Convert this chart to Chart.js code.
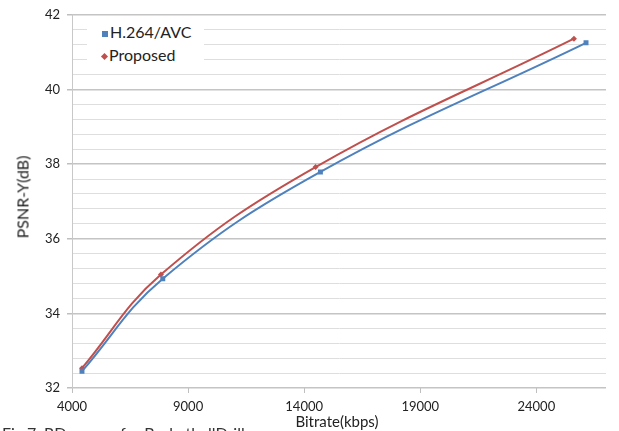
<!DOCTYPE html>
<html>
<head>
<meta charset="utf-8">
<script src="https://cdn.jsdelivr.net/npm/chart.js@4"></script>
<style>
  html, body { margin: 0; padding: 0; background: #fff; }
  #wrap { position: relative; width: 619px; height: 431px; overflow: hidden; font-family: Lato, "Open Sans", sans-serif; }
  #myChart { position: absolute; left: 0; top: 0; }
  .legend { position: absolute; left: 87px; top: 21px; width: 117px; height: 47px; background: #fff; font-size: 16px; color: #222; }
  .legend div { position: absolute; left: 15px; white-space: nowrap; }
  .legend span { display: inline-block; margin-right: 2px; vertical-align: middle; }
  .ytitle { position: absolute; left: 22px; top: 197px; transform: translate(-50%, -50%) rotate(-90deg); font-size: 16px; color: #222; white-space: nowrap; }
  .xtitle { position: absolute; left: 337px; top: 421px; transform: translate(-50%, -50%); font-size: 15px; color: #222; white-space: nowrap; }
  .caption { position: absolute; left: 2px; top: 423px; font-size: 16px; color: #333; white-space: nowrap; }
</style>
</head>
<body>
<div id="wrap">
  <canvas id="myChart" width="619" height="431"></canvas>
  <div class="legend">
    <div style="top:1px"><span style="width:6px;height:6px;background:#4F81BD"></span>H.264/AVC</div>
    <div style="top:24px"><span style="width:5px;height:5px;background:#C0504D;transform:rotate(45deg)"></span>Proposed</div>
  </div>
  <div class="ytitle">PSNR-Y(dB)</div>
  <div class="xtitle">Bitrate(kbps)</div>
  <div class="caption">Fig.7. RD curves for BasketballDrill</div>
</div>
<script>
// data
const avcRate = [4430, 7910, 14700, 26140];
const avcPsnr = [32.45, 34.93, 37.79, 41.25];
const propRate = [4430, 7830, 14490, 25620];
const propPsnr = [32.53, 35.04, 37.92, 41.36];
const xTicks = [4000, 9000, 14000, 19000, 24000];
const yLabels = [32, 34, 36, 38, 40, 42];

const isMajor = (v) => yLabels.some(l => Math.abs(l - v) < 1e-6);

const toPoints = (xs, ys) => xs.map((x, i) => ({ x: x, y: ys[i] }));

const ctx = document.getElementById('myChart');
const config = {
    type: 'scatter',
    data: {
        datasets: [{
            label: 'H.264/AVC',
            data: toPoints(avcRate, avcPsnr),
            showLine: true,
            borderColor: '#4F81BD',
            backgroundColor: '#4F81BD',
            borderWidth: 2,
            tension: 0.4,
            pointStyle: 'rect',
            pointRadius: 3.5,
            pointBorderWidth: 0
        },
        {
            label: 'Proposed',
            data: toPoints(propRate, propPsnr),
            showLine: true,
            borderColor: '#C0504D',
            backgroundColor: '#C0504D',
            borderWidth: 2,
            tension: 0.4,
            pointStyle: 'rectRot',
            pointRadius: 3,
            pointBorderWidth: 0
        }]
    },
    options: {
        responsive: false,
        animation: false,
        layout: { padding: { left: 0, right: 13, top: 13, bottom: 0 } },
        plugins: { legend: false, tooltip: { enabled: false } },
        scales: {
            x: {
                type: 'linear',
                min: 4000,
                max: 27000,
                afterBuildTicks: (scale) => { scale.ticks = xTicks.map(v => ({ value: v })); },
                afterFit: (scale) => { scale.height = 43; },
                border: { display: false },
                grid: { drawOnChartArea: false, tickLength: 5, color: '#bfbfbf' },
                ticks: {
                    padding: 6,
                    color: '#222',
                    font: { family: 'Lato', size: 13 },
                    maxRotation: 0,
                    callback: (v) => String(v)
                }
            },
            y: {
                min: 32,
                max: 42,
                afterBuildTicks: (scale) => {
                    const t = [];
                    for (let i = 0; i <= 25; i++) t.push({ value: 32 + i * 0.4 });
                    scale.ticks = t;
                },
                afterFit: (scale) => { scale.width = 72; },
                border: { display: true, color: '#c8c8c8', width: 1 },
                grid: {
                    tickLength: 5,
                    color: (c) => isMajor(c.tick.value) ? '#c4c4c4' : '#dedede',
                    tickColor: (c) => isMajor(c.tick.value) ? '#bfbfbf' : 'rgba(0,0,0,0)',
                    lineWidth: (c) => isMajor(c.tick.value) ? 1.5 : 1
                },
                ticks: {
                    padding: 7,
                    autoSkip: false,
                    color: '#222',
                    font: { family: 'Lato', size: 13 },
                    callback: (v) => isMajor(v) ? String(Math.round(v)) : ''
                }
            }
        }
    }
};

const chart = new Chart(ctx, config);
</script>
</body>
</html>
